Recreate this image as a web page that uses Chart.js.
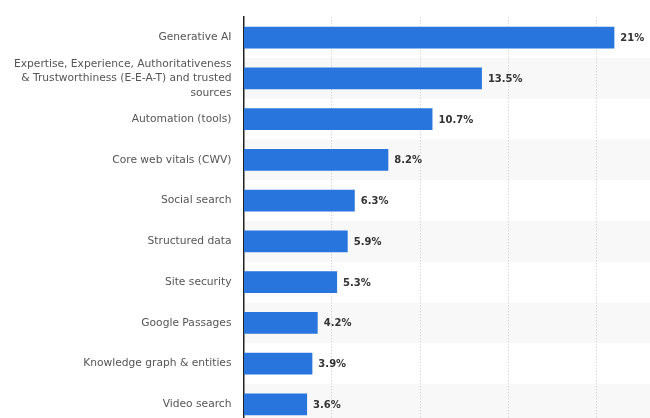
<!DOCTYPE html>
<html>
<head>
<meta charset="utf-8">
<script src="https://cdn.jsdelivr.net/npm/chart.js@4/dist/chart.umd.min.js"></script>
<style>
  html, body { margin: 0; padding: 0; overflow: hidden; background: #fff; }
  #wrap { width: 685px; height: 446px; margin-top: -2px; }
</style>
</head>
<body>
<div id="wrap"><canvas id="bar-chart"></canvas></div>
<script>
var topics = [
  "Generative AI",
  ["Expertise, Experience, Authoritativeness", "& Trustworthiness (E-E-A-T) and trusted", "sources"],
  "Automation (tools)",
  "Core web vitals (CWV)",
  "Social search",
  "Structured data",
  "Site security",
  "Google Passages",
  "Knowledge graph & entities",
  "Video search"
];
var shares = [21, 13.5, 10.7, 8.2, 6.3, 5.9, 5.3, 4.2, 3.9, 3.6];

// light stripes behind every second row
var stripes = {
  id: 'stripes',
  beforeDraw: function(chart) {
    var ctx = chart.ctx, area = chart.chartArea, y = chart.scales.y;
    var h = y.getPixelForValue(1) - y.getPixelForValue(0);
    ctx.save();
    ctx.fillStyle = '#f8f8f8';
    for (var i = 1; i < topics.length; i += 2) {
      var c = y.getPixelForValue(i);
      ctx.fillRect(area.left, c - h / 2, area.right - area.left, h);
    }
    ctx.restore();
  }
};

// value labels after the bars
var valueLabels = {
  id: 'valueLabels',
  afterDatasetsDraw: function(chart) {
    var ctx = chart.ctx;
    var meta = chart.getDatasetMeta(0);
    ctx.save();
    ctx.font = 'bold 10px "DejaVu Sans"';
    ctx.fillStyle = '#333';
    ctx.textBaseline = 'middle';
    meta.data.forEach(function(bar, i) {
      ctx.fillText(shares[i] + '%', bar.x + 6, bar.y + 1);
    });
    ctx.restore();
  }
};

new Chart(document.getElementById("bar-chart"), {
  type: 'bar',
  data: {
    labels: topics,
    datasets: [{
      data: shares,
      backgroundColor: "#2876dd",
      categoryPercentage: 1,
      barPercentage: 0.53
    }]
  },
  options: {
    indexAxis: 'y',
    responsive: true,
    maintainAspectRatio: false,
    animation: false,
    layout: { padding: { top: 17, left: 0, right: 0, bottom: 0 } },
    plugins: {
      legend: { display: false },
      tooltip: { enabled: false }
    },
    scales: {
      x: {
        min: 0,
        max: 25,
        ticks: { display: false, stepSize: 5 },
        grid: { color: '#c8c8c8', drawTicks: false, lineWidth: 1 },
        border: { display: false, dash: [1, 2] },
        afterFit: function(scale) { scale.height = 0; }
      },
      y: {
        grid: { display: false, drawTicks: false },
        border: { color: '#222', width: 1.5 },
        ticks: {
          color: '#555',
          font: { family: '"DejaVu Sans"', size: 10.7, lineHeight: 1.35 },
          padding: 12,
          autoSkip: false
        },
        afterFit: function(scale) { scale.width = 243.5; }
      }
    }
  },
  plugins: [stripes, valueLabels]
});
</script>
</body>
</html>
